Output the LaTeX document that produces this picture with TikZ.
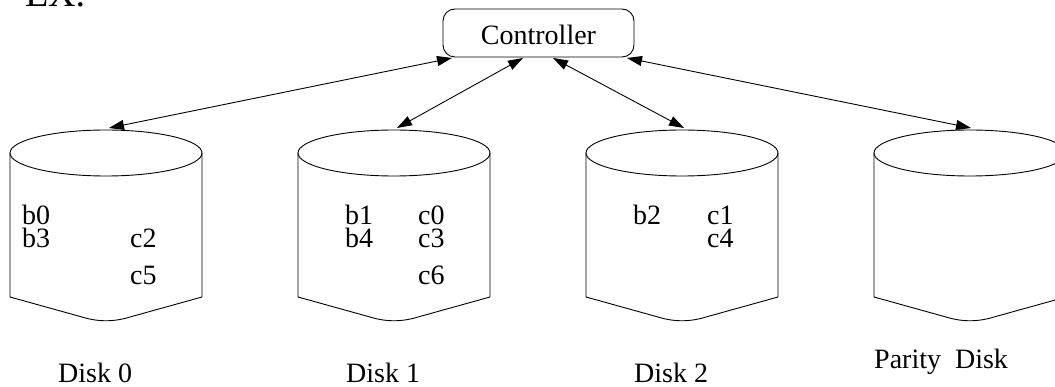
\documentclass[tikz,border=0pt]{standalone}
\usepackage{fontspec}
\setmainfont{Liberation Serif}
\usetikzlibrary{arrows.meta}
\tikzset{
  lbl/.style={anchor=base west, inner sep=0pt, font=\fontsize{28}{30}\selectfont},
  ctrlbox/.style={draw, rounded corners=12pt, line width=0.9pt, minimum width=191pt, minimum height=48pt, inner sep=0pt, text height=24pt, text depth=0pt, font=\fontsize{28}{30}\selectfont},
  link/.style={line width=0.9pt, {Triangle[length=15pt,width=10pt]}-{Triangle[length=15pt,width=10pt]}},
  disk/.pic={
    \draw[line width=0.9pt] (0,0) -- (0,144) -- (72,164) .. controls (88,169) and (104,169) .. (120,164) -- (192,144) -- (192,0);
    \draw[line width=0.9pt] (96,0) ellipse [x radius=96pt, y radius=23pt];
  }
}
\begin{document}
\begin{tikzpicture}[x=1pt,y=-1pt]
\useasboundingbox (0,0) rectangle (1055,387);
\clip (0,0) rectangle (1055,387);

\node[anchor=base west, inner sep=0pt, font=\fontsize{38}{40}\selectfont] (ex) at (25,7) {EX:};

\node[ctrlbox] (ctrl) at (538.5,33) {Controller};

\pic (d0) at (10,153) {disk};
\pic (d1) at (298,153) {disk};
\pic (d2) at (586,153) {disk};
\pic (d3) at (874,153) {disk};

\coordinate (t0) at (109,128);
\coordinate (t1) at (397,128);
\coordinate (t2) at (684,128);
\coordinate (t3) at (971,128);

\coordinate (c0) at (452,58);
\coordinate (c1) at (523,58);
\coordinate (c2) at (553,58);
\coordinate (c3) at (627,58);

\draw[link] (c0) -- (t0);
\draw[link] (c1) -- (t1);
\draw[link] (c2) -- (t2);
\draw[link] (c3) -- (t3);

% Disk 0 contents
\node[lbl] (b0) at (22,225) {b0};
\node[lbl] (b3) at (22,248) {b3};
\node[lbl] (cc2) at (130,248) {c2};
\node[lbl] (cc5) at (130,285) {c5};
% Disk 1 contents
\node[lbl] (b1) at (345,225) {b1};
\node[lbl] (b4) at (345,248) {b4};
\node[lbl] (cc0) at (418,225) {c0};
\node[lbl] (cc3) at (418,248) {c3};
\node[lbl] (cc6) at (418,285) {c6};
% Disk 2 contents
\node[lbl] (b2) at (633,225) {b2};
\node[lbl] (cc1) at (707,225) {c1};
\node[lbl] (cc4) at (707,248) {c4};

% labels
\node[lbl] (l0) at (58,382) {Disk 0};
\node[lbl] (l1) at (346,382) {Disk 1};
\node[lbl] (l2) at (634,382) {Disk 2};
\node[lbl] (l3) at (874,368) {Parity\ \ Disk};
\end{tikzpicture}
\end{document}
